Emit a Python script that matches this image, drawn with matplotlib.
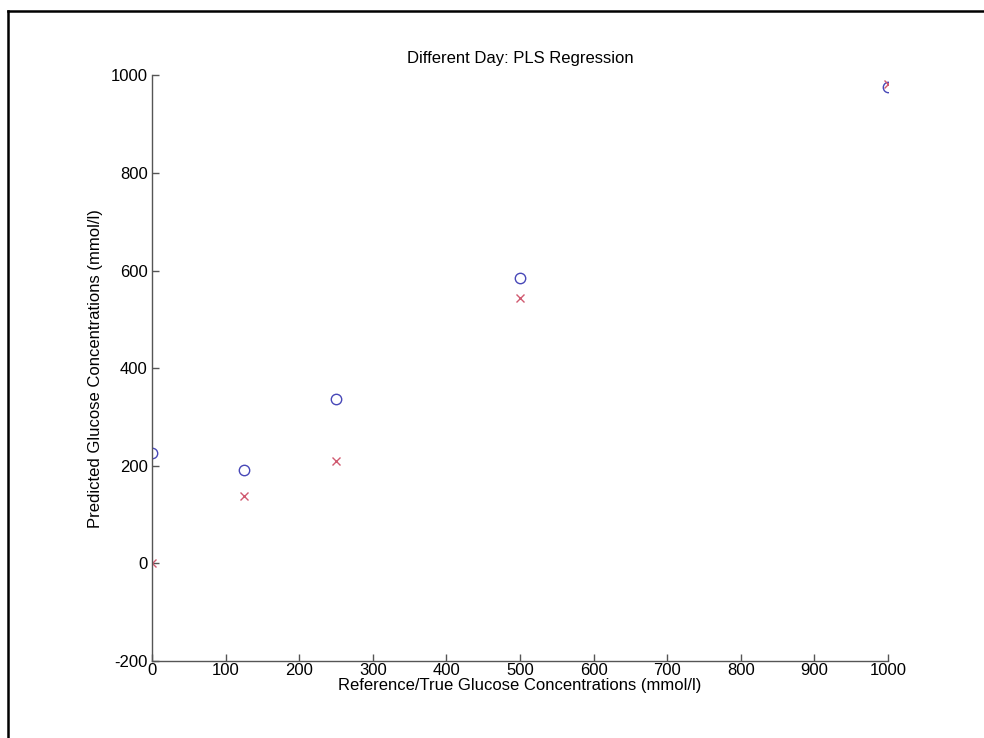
import matplotlib
matplotlib.use("Agg")
import matplotlib.pyplot as plt
from matplotlib.lines import Line2D

# reference concentrations and PLS predictions
ref_conc = [0, 125, 250, 500, 1000]
pred_circle = [227, 191, 337, 584, 975]
pred_cross = [0, 139, 210, 543, 983]

x_ticks = [0, 100, 200, 300, 400, 500, 600, 700, 800, 900, 1000]
y_ticks = [-200, 0, 200, 400, 600, 800, 1000]

plt.rcParams['font.family'] = ['Liberation Sans', 'DejaVu Sans']
plt.rcParams['axes.unicode_minus'] = False

fig = plt.figure(figsize=(9.84, 7.38), dpi=100)
ax = fig.add_axes([0.1545, 0.1043, 0.748, 0.7937])

ax.plot(ref_conc, pred_circle, 'o', color='#4848b8', mfc='none', ms=7.5, mew=1.0)
ax.plot(ref_conc, pred_cross, 'x', color='#d05a70', ms=6, mew=1.0)

ax.set_xlim(0, 1000)
ax.set_ylim(-200, 1000)
ax.set_xticks(x_ticks)
ax.set_yticks(y_ticks)

for s in ['top', 'right']:
    ax.spines[s].set_visible(False)
for s in ['left', 'bottom']:
    ax.spines[s].set_color('#555555')
    ax.spines[s].set_linewidth(1.0)
ax.tick_params(direction='in', length=5, width=1, color='#555555',
               labelsize=12, pad=3)
ax.tick_params(axis='x', pad=1.5)

ax.set_title("Different Day: PLS Regression", fontsize=12, pad=9)
ax.set_xlabel("Reference/True Glucose Concentrations (mmol/l)", fontsize=12, labelpad=0)
ax.set_ylabel("Predicted Glucose Concentrations (mmol/l)", fontsize=12, labelpad=6)

# outer frame (top and left edges only)
fig.add_artist(Line2D([7.5 / 984, 1], [1 - 10.5 / 738, 1 - 10.5 / 738],
                      color='black', lw=1.8, transform=fig.transFigure))
fig.add_artist(Line2D([7.5 / 984, 7.5 / 984], [0, 1 - 10.5 / 738],
                      color='black', lw=1.8, transform=fig.transFigure))

fig.savefig("out.png", dpi=100)
